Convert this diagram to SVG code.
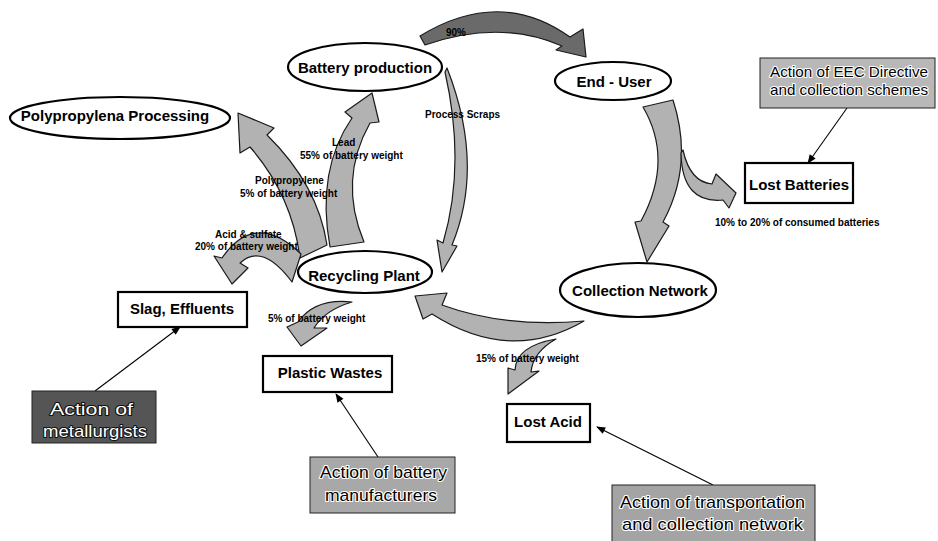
<svg xmlns="http://www.w3.org/2000/svg" width="938" height="541" viewBox="0 0 938 541">
<style>
.ell{fill:#fff;stroke:#000;stroke-width:2.2}
.box{fill:#fff;stroke:#000;stroke-width:2.2}
.lbl{font-family:"Liberation Sans",Arial,sans-serif;font-weight:bold;font-size:15px;fill:#000;text-anchor:middle}
.sm{font-family:"Liberation Sans",Arial,sans-serif;font-weight:bold;font-size:10px;fill:#000}
.flow{fill:#b2b2b2;stroke:#1a1a1a;stroke-width:1.2;stroke-linejoin:round}
.dark{fill:#6a6a6a;stroke:#1a1a1a;stroke-width:1.2;stroke-linejoin:round}
.act{stroke:#222;stroke-width:1}
.actT{font-family:"Liberation Sans",Arial,sans-serif;font-size:17px;fill:#000;stroke:#fff;stroke-width:2.2;paint-order:stroke;stroke-linejoin:round}
.actW{font-family:"Liberation Sans",Arial,sans-serif;font-size:17px;fill:#fff;stroke:#111;stroke-width:2;paint-order:stroke;stroke-linejoin:round}
.ln{stroke:#000;stroke-width:1.1;fill:none;marker-end:url(#ah)}
</style>
<defs>
<marker id="ah" viewBox="0 0 10 10" refX="9" refY="5" markerWidth="12" markerHeight="9" markerUnits="userSpaceOnUse" orient="auto">
<path d="M0,1 L10,5 L0,9 Z" fill="#000"/>
</marker>
</defs>
<rect width="938" height="541" fill="#fff"/>

<g id="connectors">
<!-- 90% top arrow -->
<path class="dark" d="M420,36 Q500,-13 570,37 L583,29 L586,57 L556,50 L562,46 Q500,19 425,45 Z"/>
<!-- End-User to Collection Network -->
<path class="flow" d="M643,107 L673,100 Q694,165 663,222 L669,226 L647,262 L635,222 L641,221 Q674,160 643,107 Z"/>
<!-- Lost batteries arrow -->
<path class="flow" d="M683,150 Q690,182 712,184 L716,174 L736,193 L729,208 L723,200 Q682,204 681,153 Z"/>
<!-- Collection Network to Recycling Plant -->
<path class="flow" d="M415,296 L447,293 L442,305 Q505,328 584,321 Q510,364 432,314 L423,319 Z"/>
<!-- Lost acid arrow -->
<path class="flow" d="M556,339 Q516,346 515,370 L508,368 L508,394 L539,371 L531,372 Q533,352 556,339 Z"/>
<!-- Process scraps -->
<path class="flow" d="M447,68 Q485,165 452,245 L457,246 L442,272 L437,240 L443,243 Q466,165 445,72 Z"/>
<!-- Lead -->
<path class="flow" d="M330,247 Q316,170 352,118 L345,112 L372,93 L379,122 L370,123 Q338,180 364,242 Z"/>
<!-- Polypropylene -->
<path class="flow" d="M300,258 Q292,195 250,147 L240,153 L238,113 L274,128 L267,135 Q318,185 327,245 Z"/>
<!-- Acid & sulfate -->
<path class="flow" d="M301,254 Q255,210 222,258 L214,256 L232,284 L248,268 L240,263 Q262,242 292,282 Z"/>
<!-- Plastic wastes -->
<path class="flow" d="M352,302 Q315,298 298,322 L287,327 L301,346 L327,328 L314,328 Q325,310 352,302 Z"/>

<!-- action lines -->
<line class="ln" x1="847" y1="108" x2="808" y2="163"/>
<line class="ln" x1="95" y1="391" x2="180" y2="327"/>
<line class="ln" x1="378" y1="457" x2="336" y2="394"/>
<line class="ln" x1="713" y1="485" x2="597" y2="427"/>

<!-- flow labels -->
<text class="sm" x="446" y="36" fill="#111">90%</text>
<text class="sm" x="425" y="118">Process Scraps</text>
<text class="sm" x="332" y="146">Lead</text>
<text class="sm" x="300" y="159">55% of battery weight</text>
<text class="sm" x="255" y="184">Polypropylene</text>
<text class="sm" x="240" y="197">5% of battery weight</text>
<text class="sm" x="215" y="238">Acid &amp; sulfate</text>
<text class="sm" x="195" y="250">20% of battery weight</text>
<text class="sm" x="268" y="322">5% of battery weight</text>
<text class="sm" x="476" y="362">15% of battery weight</text>
<text class="sm" x="715" y="226">10% to 20% of consumed batteries</text>
</g>

<g id="battery-production">
<ellipse class="ell" cx="365" cy="67" rx="77" ry="24"/>
<text class="lbl" x="365" y="73">Battery production</text>
</g>
<g id="polypropylena-processing">
<ellipse class="ell" cx="120" cy="118" rx="110" ry="21"/>
<text class="lbl" x="115" y="121">Polypropylena Processing</text>
</g>
<g id="end-user">
<ellipse class="ell" cx="613" cy="81" rx="58" ry="19"/>
<text class="lbl" x="614" y="87">End - User</text>
</g>
<g id="collection-network">
<ellipse class="ell" cx="638" cy="290" rx="78" ry="27"/>
<text class="lbl" x="640" y="296">Collection Network</text>
</g>
<g id="recycling-plant">
<ellipse class="ell" cx="365" cy="272" rx="67" ry="21"/>
<text class="lbl" x="364" y="281">Recycling Plant</text>
</g>
<g id="lost-batteries">
<rect class="box" x="745" y="163" width="108" height="40"/>
<text class="lbl" x="799" y="190">Lost Batteries</text>
</g>
<g id="slag-effluents">
<rect class="box" x="118" y="292" width="129" height="35"/>
<text class="lbl" x="182" y="314">Slag, Effluents</text>
</g>
<g id="plastic-wastes">
<rect class="box" x="263" y="356" width="129" height="36"/>
<text class="lbl" x="330" y="378">Plastic Wastes</text>
</g>
<g id="lost-acid">
<rect class="box" x="507" y="404" width="83" height="38"/>
<text class="lbl" x="548" y="427">Lost Acid</text>
</g>

<g id="action-eec">
<rect class="act" x="760" y="58" width="175" height="50" fill="#b8b8b8"/>
<text class="actT" x="770" y="77" style="font-size:15px" textLength="158" lengthAdjust="spacingAndGlyphs">Action of EEC Directive</text>
<text class="actT" x="770" y="95" style="font-size:15px" textLength="158" lengthAdjust="spacingAndGlyphs">and collection schemes</text>
</g>
<g id="action-metallurgists">
<rect class="act" x="32" y="391" width="124" height="52" fill="#555"/>
<text class="actW" x="50" y="415" textLength="83" lengthAdjust="spacingAndGlyphs">Action of</text>
<text class="actW" x="43" y="437" textLength="104" lengthAdjust="spacingAndGlyphs">metallurgists</text>
</g>
<g id="action-manufacturers">
<rect class="act" x="310" y="457" width="145" height="56" fill="#a8a8a8"/>
<text class="actT" x="320" y="478" textLength="127" lengthAdjust="spacingAndGlyphs">Action of battery</text>
<text class="actT" x="325" y="501" textLength="112" lengthAdjust="spacingAndGlyphs">manufacturers</text>
</g>
<g id="action-transportation">
<rect class="act" x="612" y="485" width="203" height="58" fill="#a4a4a4"/>
<text class="actT" x="620" y="508" textLength="185" lengthAdjust="spacingAndGlyphs">Action of transportation</text>
<text class="actT" x="622" y="530" textLength="181" lengthAdjust="spacingAndGlyphs">and collection network</text>
</g>
</svg>
